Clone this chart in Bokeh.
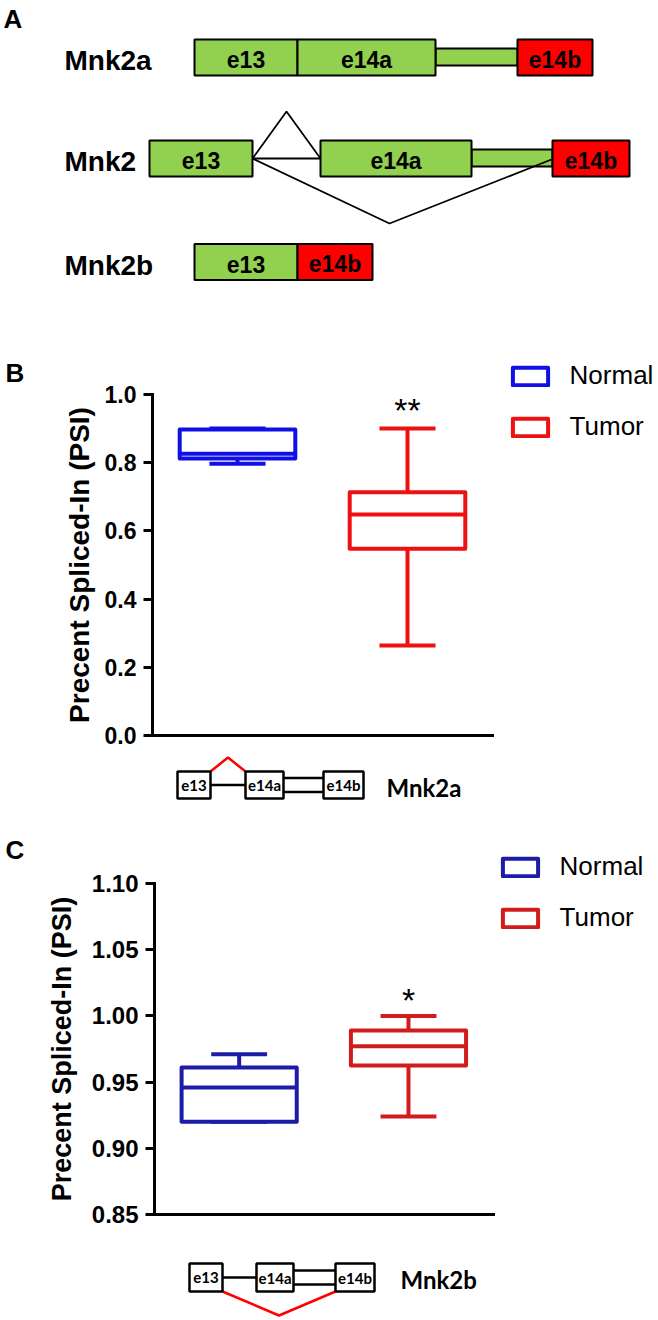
import math
from bokeh.plotting import figure
from bokeh.models import (Range1d, LinearAxis, FixedTicker, PrintfTickFormatter,
                          Legend, LegendItem, ColumnDataSource)
from bokeh.layouts import column, row
from bokeh.transform import dodge
from bokeh.core.properties import value
from bokeh.embed import file_html
from bokeh.resources import INLINE

FONT = "Liberation Sans"
MINI_FONT = "Lato"
GREEN = "#92d050"
EX_RED = "#ff0000"
Y_TITLE = "Precent Spliced-In (PSI)"

# ---------------- Panel A : isoform schematic (schematic units) ----------------
iso_rows = ["Mnk2a", "Mnk2", "Mnk2b"]
iso_y = [57, 158, 261.5]
exon_iso = ["Mnk2a", "Mnk2a", "Mnk2a", "Mnk2", "Mnk2", "Mnk2", "Mnk2b", "Mnk2b"]
exon_name = ["e13", "e14a", "e14b", "e13", "e14a", "e14b", "e13", "e14b"]
exon_start = [194, 297, 517, 149, 320, 552, 194, 297]
exon_end = [297, 435, 592, 252, 471, 629, 297, 372]
link_iso = ["Mnk2a", "Mnk2"]
link_start = [435, 471]
link_end = [517, 552]
# splice paths of Mnk2 (x positions, y offsets from the row)
splice_x = [[252, 286, 320], [252, 320], [252, 389, 551]]
splice_dy = [[0, -47, 0], [0, 0], [0, 65, 1]]

# ---------------- Panels B / C : box plot statistics ----------------
groups = ["Normal", "Tumor"]
b_min = [0.797, 0.264]
b_q1 = [0.812, 0.548]
b_med = [0.826, 0.648]
b_q3 = [0.897, 0.713]
b_max = [0.900, 0.900]
b_sig = ["", "**"]
b_ticks = [0.0, 0.2, 0.4, 0.6, 0.8, 1.0]

c_min = [0.920, 0.924]
c_q1 = [0.920, 0.9625]
c_med = [0.946, 0.977]
c_q3 = [0.961, 0.989]
c_max = [0.971, 1.000]
c_sig = ["", "*"]
c_ticks = [0.85, 0.90, 0.95, 1.00, 1.05, 1.10]

# mini schematics under B and C
mini_exons = ["e13", "e14a", "e14b"]
miniB_left = [177, 245, 323]
miniB_right = [210, 283, 363]
miniC_left = [189, 256, 335]
miniC_right = [222, 293, 374]


def base_fig(w, h, xr, yr):
    p = figure(width=w, height=h, x_range=xr, y_range=yr, output_backend="svg",
               toolbar_location=None, x_axis_type=None, y_axis_type=None,
               min_border=0, frame_align=False)
    p.outline_line_color = None
    p.background_fill_color = "white"
    p.border_fill_color = "white"
    return p


def side_fig(w, h, y_top, y_bot, letter, letter_y, title_x, title_y, title_size):
    """Panel letter and the (rotated) y-axis title, left of a box panel."""
    p = base_fig(w, h, Range1d(0, w), Range1d(y_bot, y_top))
    p.text(x=[5], y=[letter_y], text=[letter], text_font=value(FONT), text_font_style="bold",
           text_font_size="26px", text_align="left", text_baseline="middle")
    p.text(x=[title_x], y=[title_y], text=[Y_TITLE], angle=math.pi / 2,
           text_font=value(FONT), text_font_style="bold", text_font_size=title_size,
           text_align="center", text_baseline="middle")
    return p


# ---------------- Panel A ----------------
pA = base_fig(658, 340, Range1d(0, 658), Range1d(340, 0))
ey = [iso_y[iso_rows.index(r)] for r in exon_iso]
ly = [iso_y[iso_rows.index(r)] for r in link_iso]
pA.quad(left=link_start, right=link_end, top=[y - 9 for y in ly], bottom=[y + 8 for y in ly],
        fill_color=GREEN, line_color="black", line_width=2)
pA.quad(left=exon_start, right=exon_end, top=[y - 18 for y in ey], bottom=[y + 18 for y in ey],
        fill_color=[EX_RED if n == "e14b" else GREEN for n in exon_name],
        line_color="black", line_width=2)
y2 = iso_y[1]
pA.multi_line(xs=splice_x, ys=[[y2 + d for d in dy] for dy in splice_dy],
              line_color="black", line_width=1.8)
pA.text(x=[(a + b) / 2 for a, b in zip(exon_start, exon_end)], y=ey, text=exon_name,
        text_font=value(FONT), text_font_style="bold", text_font_size="23px",
        text_align="center", text_baseline="middle", y_offset=2)
pA.text(x=[64] * 3, y=iso_y, text=iso_rows, text_font=value(FONT), text_font_style="bold",
        text_font_size="28px", text_align="left", text_baseline="middle", y_offset=3)
pA.text(x=[3], y=[18], text=["A"], text_font=value(FONT), text_font_style="bold",
        text_font_size="26px", text_align="left", text_baseline="middle")


# ---------------- box panels ----------------
def box_panel(width, height, frame_h, px_per_unit, y0, y_top_tick, ticks, fmt, tick_size,
              mins, q1s, meds, q3s, maxs, sigs, colors, sig_off, leg_loc):
    y_end = y0 + frame_h / px_per_unit
    p = figure(width=width, height=height, x_range=Range1d(0.5, 0.5 + 506 / 170),
               y_range=Range1d(y0, y_end), output_backend="svg", toolbar_location=None,
               x_axis_type=None, y_axis_type=None, min_border_left=width - 506,
               min_border_right=0, min_border_top=0, min_border_bottom=15,
               frame_align=False)
    p.outline_line_color = None
    p.background_fill_color = "white"
    p.border_fill_color = "white"

    src = ColumnDataSource(dict(x=[1, 2], lo=mins, q1=q1s, med=meds, q3=q3s, hi=maxs,
                                sig=sigs, color=colors))
    lw = 4
    p.segment(x0="x", y0="q3", x1="x", y1="hi", line_color="color", line_width=lw, source=src)
    p.segment(x0="x", y0="lo", x1="x", y1="q1", line_color="color", line_width=lw, source=src)
    for yk in ("hi", "lo"):
        p.segment(x0=dodge("x", -0.165), y0=yk, x1=dodge("x", 0.165), y1=yk,
                  line_color="color", line_width=lw, source=src)
    box = p.vbar(x="x", width=0.68, top="q3", bottom="q1", fill_color="white",
                 line_color="color", line_width=lw, line_join="round", source=src)
    p.segment(x0=dodge("x", -0.34), y0="med", x1=dodge("x", 0.34), y1="med",
              line_color="color", line_width=lw, source=src)
    p.text(x="x", y="hi", text="sig", source=src, text_font=value(FONT),
           text_font_size="34px", text_align="center", text_baseline="middle",
           y_offset=sig_off, text_color="black")

    yax = LinearAxis(bounds=(y0, y_top_tick), ticker=FixedTicker(ticks=ticks),
                     formatter=PrintfTickFormatter(format=fmt))
    yax.axis_line_width = 3
    yax.axis_line_cap = "square"
    yax.major_tick_line_width = 3
    yax.major_tick_out = 9
    yax.major_tick_in = 0
    yax.minor_tick_line_color = None
    yax.major_label_text_font = FONT
    yax.major_label_text_font_style = "bold"
    yax.major_label_text_font_size = tick_size
    yax.major_label_text_color = "black"
    yax.major_label_standoff = 7
    p.add_layout(yax, "left")

    xax = LinearAxis(bounds=(0.5, 2.5), ticker=FixedTicker(ticks=[]))
    xax.axis_line_width = 3
    xax.axis_line_cap = "square"
    xax.major_tick_out = 0
    xax.major_tick_in = 0
    xax.major_label_text_font_size = "0px"
    p.add_layout(xax, "below")

    leg = Legend(items=[LegendItem(label=g, renderers=[box], index=i) for i, g in enumerate(groups)],
                 location=leg_loc)
    leg.label_text_font = FONT
    leg.label_text_font_size = "26px"
    leg.label_text_color = "black"
    leg.glyph_width = 44
    leg.glyph_height = 22
    leg.label_height = 25
    leg.label_standoff = 18
    leg.spacing = 20
    leg.padding = 0
    leg.margin = 0
    leg.border_line_color = None
    leg.background_fill_alpha = 0
    p.add_layout(leg)
    return p


pB = box_panel(562, 410, 395, 341, 0.0, 1.0, b_ticks, "%.1f", "23px",
               b_min, b_q1, b_med, b_q3, b_max, b_sig, ["#1010e6", "#ee1111"], -19, (355.6, 293))
pC = box_panel(570, 424, 409, 1324, 0.85, 1.10, c_ticks, "%.2f", "24px",
               c_min, c_q1, c_med, c_q3, c_max, c_sig, ["#1c1ca8", "#d21c1c"], -16, (343.6, 281))
rowB = row(side_fig(96, 410, 340, 750, "B", 372, 79, 564.5, "28px"), pB, spacing=0)
rowC = row(side_fig(88, 424, 805, 1229, "C", 849, 61, 1048.5, "27px"), pC, spacing=0)


# ---------------- mini schematics ----------------
def mini(height, y_top, y_bot, left, right, box_top, box_bot, red_xs, red_ys, name, name_x):
    p = base_fig(658, height, Range1d(0, 658), Range1d(y_bot, y_top))
    mid = (box_top + box_bot) / 2
    # e13 - e14a single line, e14a - e14b double line
    p.segment(x0=[right[0], right[1], right[1]], y0=[mid, mid - 7, mid + 7],
              x1=[left[1], left[2], left[2]], y1=[mid, mid - 7, mid + 7],
              line_color="black", line_width=2.5)
    p.line(x=red_xs, y=red_ys, line_color="red", line_width=2.5)
    p.quad(left=left, right=right, top=[box_top] * 3, bottom=[box_bot] * 3,
           fill_color="white", line_color="black", line_width=2.5)
    p.text(x=[(a + b) / 2 for a, b in zip(left, right)], y=[mid] * 3, text=mini_exons,
           text_font=value(MINI_FONT), text_font_style="bold", text_font_size="15px",
           text_align="center", text_baseline="middle")
    p.text(x=[name_x], y=[mid], text=[name], text_font=value(MINI_FONT), text_font_style="bold",
           text_font_size="24px", text_align="left", text_baseline="middle", y_offset=2)
    return p


pBd = mini(55, 750, 805, miniB_left, miniB_right, 771, 798,
           [miniB_right[0], (miniB_right[0] + miniB_left[1]) / 2, miniB_left[1]],
           [771, 757, 771], "Mnk2a", 386)
pCd = mini(91, 1229, 1320, miniC_left, miniC_right, 1263, 1291,
           [miniC_right[0], (miniC_right[0] + miniC_left[2]) / 2, miniC_left[2]],
           [1291, 1315, 1291], "Mnk2b", 400)

layout = column(pA, rowB, pBd, rowC, pCd, spacing=0)
open("out.html", "w").write(file_html(layout, INLINE))
